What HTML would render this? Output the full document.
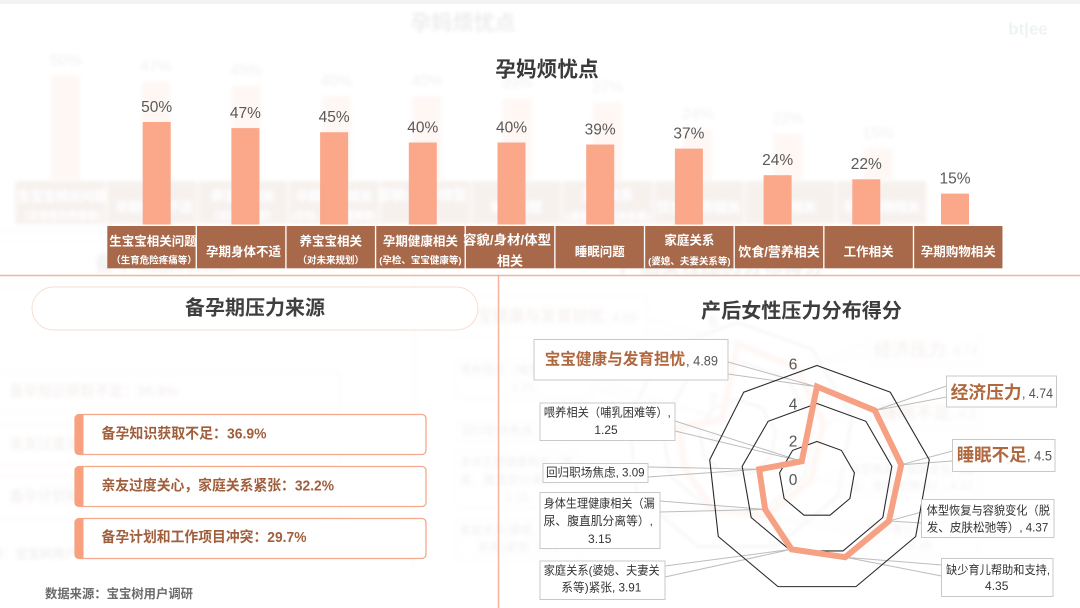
<!DOCTYPE html>
<html>
<head>
<meta charset="utf-8">
<style>
html,body{margin:0;padding:0;background:#fff;}
body{width:1080px;height:608px;overflow:hidden;}
svg{display:block;}
text{font-family:"Liberation Sans","Noto Sans CJK SC",sans-serif;}
</style>
</head>
<body>
<svg width="1080" height="608" viewBox="0 0 1080 608" xmlns="http://www.w3.org/2000/svg" xmlns:xlink="http://www.w3.org/1999/xlink">
<defs>
<filter id="bl" x="-5%" y="-5%" width="110%" height="110%"><feGaussianBlur stdDeviation="1.8"/></filter>
</defs>
<rect width="1080" height="608" fill="#ffffff"/>
<rect width="1080" height="4" fill="#f3f3f3"/>

<!-- faint ghost background copy -->
<use href="#m" xlink:href="#m" transform="translate(-93.7,-47.9) scale(1.0176,1.013)" opacity="0.085" filter="url(#bl)"/>
<text x="1028" y="29" text-anchor="middle" dominant-baseline="central" font-size="17" font-weight="700" fill="#edf4f4">bt|ee</text>

<g id="m">
  <!-- ===== Top chart ===== -->
  <text x="547" y="70" text-anchor="middle" dominant-baseline="central" font-size="21" font-weight="700" fill="#3a3a3a" textLength="103.5" lengthAdjust="spacingAndGlyphs">孕妈烦忧点</text>

  <g fill="#FAA78A">
    <rect x="142.7" y="122.0" width="28" height="102.5"/>
    <rect x="231.4" y="128.1" width="28" height="96.4"/>
    <rect x="320.1" y="132.2" width="28" height="92.3"/>
    <rect x="408.8" y="142.5" width="28" height="82"/>
    <rect x="497.5" y="142.5" width="28" height="82"/>
    <rect x="586.2" y="144.5" width="28" height="80"/>
    <rect x="674.9" y="148.6" width="28" height="75.9"/>
    <rect x="763.6" y="175.2" width="28" height="49.3"/>
    <rect x="852.3" y="179.3" width="28" height="45.2"/>
    <rect x="941.0" y="193.6" width="28" height="30.9"/>
  </g>
  <g font-size="15.5" fill="#5a5a5a" text-anchor="middle" dominant-baseline="central">
    <text x="156.7" y="107.3">50%</text>
    <text x="245.4" y="113.4">47%</text>
    <text x="334.1" y="117.5">45%</text>
    <text x="422.8" y="127.8">40%</text>
    <text x="511.5" y="127.8">40%</text>
    <text x="600.2" y="129.8">39%</text>
    <text x="688.9" y="133.9">37%</text>
    <text x="777.6" y="160.5">24%</text>
    <text x="866.3" y="164.6">22%</text>
    <text x="955.0" y="178.9">15%</text>
  </g>

  <g fill="#A8694B">
    <rect x="107.3" y="226" width="88.3" height="42.3"/>
    <rect x="196.95" y="226" width="88.3" height="42.3"/>
    <rect x="286.6" y="226" width="88.3" height="42.3"/>
    <rect x="376.25" y="226" width="88.3" height="42.3"/>
    <rect x="465.9" y="226" width="88.3" height="42.3"/>
    <rect x="555.55" y="226" width="88.3" height="42.3"/>
    <rect x="645.2" y="226" width="88.3" height="42.3"/>
    <rect x="734.85" y="226" width="88.3" height="42.3"/>
    <rect x="824.5" y="226" width="88.3" height="42.3"/>
    <rect x="914.15" y="226" width="88.3" height="42.3"/>
  </g>
  <g fill="#ffffff" font-weight="700" text-anchor="middle" dominant-baseline="central" font-size="12.5">
    <text x="153" y="241.5">生宝宝相关问题</text>
    <text x="154" y="261" font-size="9.5">（生育危险疼痛等）</text>
    <text x="243.5" y="252">孕期身体不适</text>
    <text x="330.75" y="241.5">养宝宝相关</text>
    <text x="330.75" y="261" font-size="9.5">（对未来规划）</text>
    <text x="420.4" y="241.5">孕期健康相关</text>
    <text x="420.4" y="261" font-size="9.5">(孕检、宝宝健康等)</text>
    <text x="507" y="240" font-size="13" textLength="88" lengthAdjust="spacingAndGlyphs">容貌/身材/体型</text>
    <text x="510.05" y="261" font-size="13">相关</text>
    <text x="599.7" y="252">睡眠问题</text>
    <text x="689.35" y="240.5">家庭关系</text>
    <text x="689.35" y="262" font-size="9.5">(婆媳、夫妻关系等)</text>
    <text x="779" y="252" font-size="13">饮食/营养相关</text>
    <text x="868.65" y="252">工作相关</text>
    <text x="958.3" y="252">孕期购物相关</text>
  </g>

  <!-- dividers -->
  <line x1="0" y1="275.5" x2="1080" y2="275.5" stroke="#F5B39B" stroke-width="1.5"/>
  <line x1="498.5" y1="275.5" x2="498.5" y2="608" stroke="#F5B39B" stroke-width="1.5"/>

  <!-- ===== Bottom left ===== -->
  <rect x="32" y="287" width="446" height="43" rx="21.5" fill="#ffffff" stroke="#F7DDD2" stroke-width="1"/>
  <text x="255" y="308.5" text-anchor="middle" dominant-baseline="central" font-size="20" font-weight="700" fill="#3f3f3f" textLength="140" lengthAdjust="spacingAndGlyphs">备孕期压力来源</text>

  <g stroke="#F4A98C" stroke-width="1.3" fill="#ffffff">
    <rect x="75" y="414.5" width="351" height="40" rx="4"/>
    <rect x="75" y="466.5" width="351" height="40" rx="4"/>
    <rect x="75" y="518.5" width="351" height="40" rx="4"/>
  </g>
  <g fill="#F9A07E">
    <path d="M83.5,414.5 H79 a4,4 0 0 0 -4,4 V450.5 a4,4 0 0 0 4,4 H83.5 Z"/>
    <path d="M83.5,466.5 H79 a4,4 0 0 0 -4,4 V502.5 a4,4 0 0 0 4,4 H83.5 Z"/>
    <path d="M83.5,518.5 H79 a4,4 0 0 0 -4,4 V554.5 a4,4 0 0 0 4,4 H83.5 Z"/>
  </g>
  <g fill="#A05F3C" font-weight="700" font-size="14.5" dominant-baseline="central">
    <text x="101.5" y="434.5" textLength="165" lengthAdjust="spacingAndGlyphs">备孕知识获取不足：36.9%</text>
    <text x="101.5" y="486.5" textLength="232.5" lengthAdjust="spacingAndGlyphs">亲友过度关心，家庭关系紧张：32.2%</text>
    <text x="101.5" y="538" textLength="205" lengthAdjust="spacingAndGlyphs">备孕计划和工作项目冲突：29.7%</text>
  </g>
  <text x="45" y="594" dominant-baseline="central" font-size="12.5" font-weight="700" fill="#6b6b6b" textLength="148" lengthAdjust="spacingAndGlyphs">数据来源：宝宝树用户调研</text>

  <!-- ===== Bottom right: radar ===== -->
  <text x="801.5" y="311.5" text-anchor="middle" dominant-baseline="central" font-size="20" font-weight="700" fill="#3d3d3d" textLength="201" lengthAdjust="spacingAndGlyphs">产后女性压力分布得分</text>

  <!-- leader wedges -->
  <g fill="none" stroke="#bdbdbd" stroke-width="1">
    <polyline points="728,362 816,386.6 728,374"/>
    <polyline points="675,421 801.7,461.3 675,431"/>
    <polyline points="648,467 759.2,469.3 648,477"/>
    <polyline points="660,501 765.2,509.4 660,512"/>
    <polyline points="665,566 791.6,549.3 665,577"/>
    <polyline points="946.5,386 874.9,410.5 946.5,397"/>
    <polyline points="952.5,451 901.2,464.7 952.5,461"/>
    <polyline points="921.5,512 888.9,521 921.5,523"/>
    <polyline points="941.5,565 845.3,557.2 941.5,576"/>
  </g>

  <g fill="none" stroke="#2a2a2a" stroke-width="1.1">
    <polygon points="817,441.5 841.43,450.39 854.42,472.9 849.91,498.5 830,515.21 804,515.21 784.09,498.5 779.58,472.9 792.57,450.39"/>
    <polygon points="817,403.5 865.85,421.28 891.85,466.3 882.82,517.5 843,550.92 791,550.92 751.18,517.5 742.15,466.3 768.15,421.28"/>
    <polygon points="817,365.5 890.28,392.18 929.27,459.7 915.72,536.5 855.99,586.63 778.01,586.63 718.28,536.5 709.73,459.7 743.72,392.18"/>
  </g>
  <polygon points="817,386.59 874.89,410.51 901.2,464.66 888.91,521.02 845.27,557.17 791.59,549.31 765.17,509.43 759.18,469.31 801.73,461.31" fill="none" stroke="#F6A084" stroke-width="6" stroke-linejoin="miter"/>

  <g font-size="15.5" fill="#555555" text-anchor="middle" dominant-baseline="central">
    <text x="793" y="365">6</text>
    <text x="793" y="405">4</text>
    <text x="793" y="442">2</text>
    <text x="793" y="480.3">0</text>
  </g>

  <!-- label boxes -->
  <g fill="#ffffff" stroke="#c9c9c9" stroke-width="1">
    <rect x="534" y="339.5" width="194" height="40.5"/>
    <rect x="540" y="403" width="135" height="37.5"/>
    <rect x="543" y="463.5" width="105" height="19"/>
    <rect x="540" y="492.5" width="120" height="56"/>
    <rect x="540" y="561" width="125" height="38.5"/>
    <rect x="946.5" y="376" width="110" height="31"/>
    <rect x="952.5" y="439.5" width="102.5" height="32"/>
    <rect x="921.5" y="499.5" width="132.5" height="38"/>
    <rect x="941.5" y="558.5" width="111.5" height="38"/>
  </g>

  <g dominant-baseline="central">
    <text x="544.7" y="360" font-size="16" font-weight="700" fill="#B0683F" textLength="140.6" lengthAdjust="spacingAndGlyphs">宝宝健康与发育担忧</text>
    <text x="686" y="361" font-size="13.5" fill="#555555" textLength="32" lengthAdjust="spacingAndGlyphs">, 4.89</text>
    <text x="950.7" y="392.7" font-size="17.5" font-weight="700" fill="#B0683F" textLength="71" lengthAdjust="spacingAndGlyphs">经济压力</text>
    <text x="1022" y="393.5" font-size="13.5" fill="#555555" textLength="31" lengthAdjust="spacingAndGlyphs">, 4.74</text>
    <text x="956.7" y="455" font-size="17.5" font-weight="700" fill="#B0683F" textLength="70" lengthAdjust="spacingAndGlyphs">睡眠不足</text>
    <text x="1027" y="456" font-size="13.5" fill="#555555" textLength="25" lengthAdjust="spacingAndGlyphs">, 4.5</text>
  </g>

  <g font-size="12" fill="#333333" text-anchor="middle" dominant-baseline="central">
    <text x="607.3" y="412.7" textLength="127" lengthAdjust="spacingAndGlyphs">喂养相关（哺乳困难等）,</text>
    <text x="606" y="430">1.25</text>
    <text x="595.3" y="472.5" textLength="98.7" lengthAdjust="spacingAndGlyphs">回归职场焦虑, 3.09</text>
    <text x="599.2" y="503.3" textLength="111" lengthAdjust="spacingAndGlyphs">身体生理健康相关（漏</text>
    <text x="598.3" y="521" textLength="109.3" lengthAdjust="spacingAndGlyphs">尿、腹直肌分离等）,</text>
    <text x="599.7" y="539">3.15</text>
    <text x="601.7" y="570.7" textLength="116" lengthAdjust="spacingAndGlyphs">家庭关系(婆媳、夫妻关</text>
    <text x="601.3" y="587.7" textLength="80" lengthAdjust="spacingAndGlyphs">系等)紧张, 3.91</text>
    <text x="988.3" y="510.7" textLength="123.3" lengthAdjust="spacingAndGlyphs">体型恢复与容貌变化（脱</text>
    <text x="987.5" y="527.3" textLength="121.6" lengthAdjust="spacingAndGlyphs">发、皮肤松弛等）, 4.37</text>
    <text x="998" y="570" textLength="104" lengthAdjust="spacingAndGlyphs">缺少育儿帮助和支持,</text>
    <text x="996.7" y="586">4.35</text>
  </g>
</g>
</svg>
</body>
</html>
